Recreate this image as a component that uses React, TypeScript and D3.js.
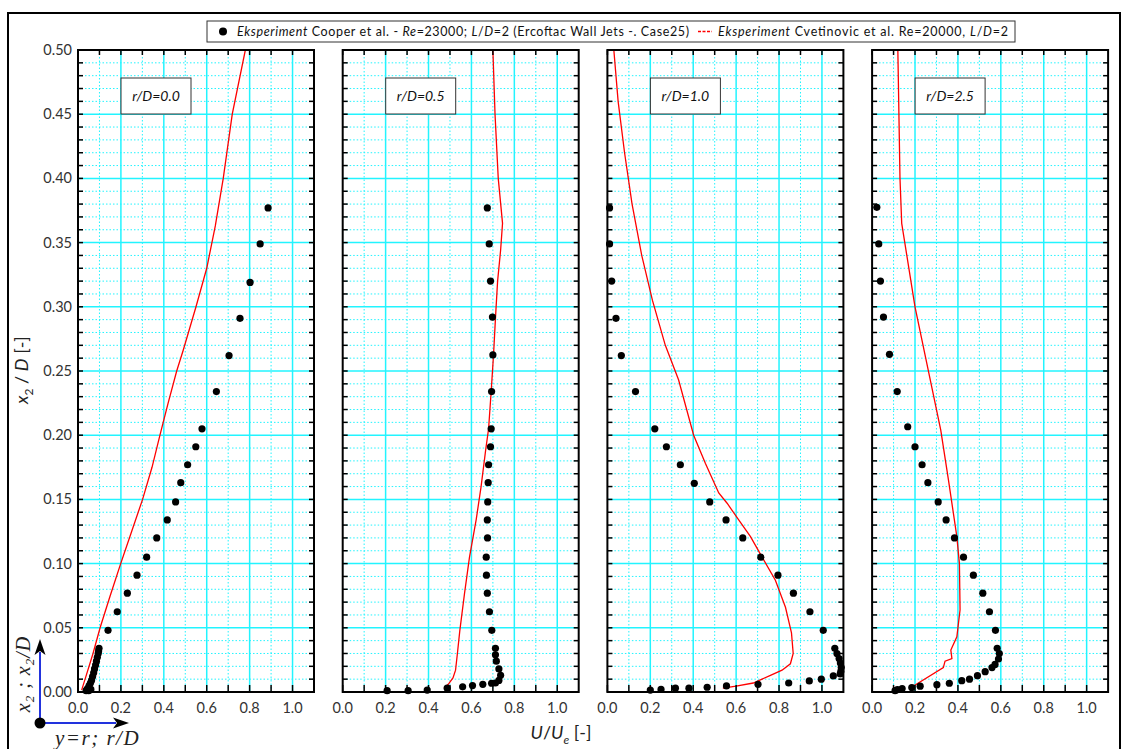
import React from "react";
import * as d3 from "d3";

// ---------- DATA ----------
const panelLabels = ["r/D=0.0", "r/D=0.5", "r/D=1.0", "r/D=2.5"];
const xTickValues = [0, 0.2, 0.4, 0.6, 0.8, 1.0];
const yTickValues = [0, 0.05, 0.1, 0.15, 0.2, 0.25, 0.3, 0.35, 0.4, 0.45, 0.5];

// Cooper et al. experiment points [U/Ue, x2/D]
const cooperR00: [number, number][] = [
  [0.886, 0.377], [0.849, 0.349], [0.802, 0.319], [0.755, 0.291], [0.704, 0.262], [0.645, 0.234],
  [0.578, 0.205], [0.549, 0.191], [0.511, 0.177], [0.479, 0.163], [0.455, 0.148], [0.416, 0.134],
  [0.367, 0.12], [0.32, 0.105], [0.275, 0.091], [0.23, 0.077], [0.183, 0.0625], [0.14, 0.048],
  [0.098, 0.034], [0.096, 0.032], [0.094, 0.03], [0.09, 0.027], [0.086, 0.024], [0.082, 0.021],
  [0.077, 0.018], [0.073, 0.015], [0.068, 0.012], [0.063, 0.009], [0.058, 0.007], [0.052, 0.005],
  [0.047, 0.003], [0.042, 0.002], [0.038, 0.001], [0.05, 0.001], [0.06, 0.002],
];
const cooperR05: [number, number][] = [
  [0.674, 0.377], [0.683, 0.349], [0.689, 0.32], [0.698, 0.292], [0.7, 0.2625], [0.694, 0.234],
  [0.692, 0.205], [0.689, 0.191], [0.68, 0.177], [0.678, 0.163], [0.676, 0.148], [0.674, 0.134],
  [0.675, 0.12], [0.669, 0.105], [0.67, 0.091], [0.674, 0.077], [0.684, 0.0625], [0.695, 0.048],
  [0.712, 0.034], [0.712, 0.029], [0.716, 0.024], [0.728, 0.018], [0.736, 0.013], [0.728, 0.009],
  [0.712, 0.007], [0.694, 0.0068], [0.653, 0.006], [0.605, 0.005], [0.559, 0.004], [0.487, 0.003],
  [0.394, 0.0015], [0.305, 0.001], [0.207, 0.001],
];
const cooperR10: [number, number][] = [
  [0.01, 0.377], [0.01, 0.349], [0.02, 0.32], [0.04, 0.291], [0.065, 0.262], [0.131, 0.234],
  [0.221, 0.205], [0.275, 0.191], [0.34, 0.177], [0.405, 0.1625], [0.477, 0.148], [0.553, 0.134],
  [0.631, 0.12], [0.715, 0.105], [0.795, 0.091], [0.867, 0.077], [0.944, 0.0625], [1.006, 0.048],
  [1.06, 0.034], [1.07, 0.03], [1.08, 0.026], [1.086, 0.0225], [1.09, 0.019], [1.088, 0.016],
  [1.085, 0.014], [1.053, 0.0125], [0.997, 0.01], [0.941, 0.0086], [0.845, 0.007], [0.702, 0.006],
  [0.555, 0.0047], [0.465, 0.0037], [0.38, 0.003], [0.317, 0.003], [0.25, 0.002], [0.2, 0.0015],
];
const cooperR25: [number, number][] = [
  [0.022, 0.3775], [0.031, 0.349], [0.039, 0.32], [0.053, 0.292], [0.081, 0.263], [0.117, 0.234],
  [0.166, 0.2066], [0.2, 0.191], [0.233, 0.177], [0.26, 0.163], [0.308, 0.148], [0.345, 0.134],
  [0.384, 0.12], [0.426, 0.105], [0.472, 0.091], [0.516, 0.077], [0.547, 0.0625], [0.575, 0.048],
  [0.583, 0.034], [0.593, 0.03], [0.589, 0.0257], [0.573, 0.0215], [0.559, 0.019], [0.527, 0.0158],
  [0.491, 0.0127], [0.454, 0.01], [0.418, 0.0088], [0.36, 0.0068], [0.302, 0.0057], [0.224, 0.0045],
  [0.185, 0.0035], [0.14, 0.0027], [0.118, 0.0018], [0.107, 0.001],
];

// Cvetinovic et al. experiment lines [U/Ue, x2/D]
const cvetR00: [number, number][] = [
  [0.017, 0.0015], [0.033, 0.01], [0.07, 0.03], [0.103, 0.05], [0.15, 0.075], [0.199, 0.1],
  [0.25, 0.125], [0.301, 0.15], [0.345, 0.175], [0.382, 0.2], [0.42, 0.225], [0.46, 0.25],
  [0.49, 0.266], [0.55, 0.3], [0.6, 0.33], [0.64, 0.363], [0.677, 0.4], [0.719, 0.45], [0.78, 0.5],
];
const cvetR05: [number, number][] = [
  [0.472, 0.003], [0.492, 0.006], [0.514, 0.011], [0.526, 0.017], [0.534, 0.029], [0.546, 0.048],
  [0.568, 0.077], [0.591, 0.105], [0.622, 0.134], [0.645, 0.16], [0.666, 0.188], [0.68, 0.205],
  [0.692, 0.234], [0.703, 0.2625], [0.712, 0.291], [0.722, 0.32], [0.736, 0.344], [0.745, 0.365],
  [0.725, 0.4], [0.71, 0.45], [0.7, 0.5],
];
const cvetR10: [number, number][] = [
  [0.538, 0.003], [0.6, 0.0045], [0.68, 0.007], [0.76, 0.013], [0.814, 0.017], [0.853, 0.022],
  [0.866, 0.03], [0.858, 0.046], [0.83, 0.066], [0.783, 0.087], [0.721, 0.105], [0.667, 0.121],
  [0.612, 0.134], [0.558, 0.147], [0.519, 0.155], [0.457, 0.178], [0.402, 0.2], [0.332, 0.243],
  [0.27, 0.27], [0.21, 0.305], [0.16, 0.34], [0.115, 0.38], [0.08, 0.42], [0.05, 0.46], [0.03, 0.5],
];
const cvetR25: [number, number][] = [
  [0.185, 0.0037], [0.193, 0.0047], [0.332, 0.019], [0.34, 0.024], [0.372, 0.026], [0.367, 0.0327],
  [0.395, 0.043], [0.41, 0.064], [0.407, 0.1], [0.395, 0.121], [0.356, 0.165], [0.32, 0.204],
  [0.2, 0.3], [0.138, 0.365], [0.13, 0.4], [0.12, 0.5],
];

const cooperSeries = [cooperR00, cooperR05, cooperR10, cooperR25];
const cvetSeries = [cvetR00, cvetR05, cvetR10, cvetR25];

// ---------- LAYOUT ----------
const W = 1128;
const H = 749;
const panelLeft0 = 78;
const panelStep = 264.7;
const panelW = 236;
const top = 50;
const bottom = 692;
const FONT = "Lato, 'Open Sans', sans-serif";
const SERIF = "'Liberation Serif', 'DejaVu Serif', serif";

const yScale = d3.scaleLinear().domain([0, 0.5]).range([bottom, top]);
const minorY = d3.range(0, 51).map((i) => i / 100);
const minorX = d3.range(0, 12).map((i) => i / 10);

function Panel({ index }: { index: number }) {
  const x0 = panelLeft0 + index * panelStep;
  const xScale = d3.scaleLinear().domain([0, 1.1]).range([x0, x0 + panelW]);
  const line = d3
    .line<[number, number]>()
    .x((d) => xScale(d[0]))
    .y((d) => yScale(d[1]));
  const clipId = `clip${index}`;
  const cyan = "#22f4ff";
  return (
    <g>
      <defs>
        <clipPath id={clipId}>
          <rect x={x0} y={top} width={panelW} height={bottom - top} />
        </clipPath>
      </defs>
      {minorY.map((v, i) =>
        i % 5 !== 0 ? (
          <line key={"mh" + i} x1={x0} x2={x0 + panelW} y1={yScale(v)} y2={yScale(v)}
            stroke={cyan} strokeWidth={1} strokeDasharray="1.5,2" />
        ) : null
      )}
      {minorX.map((v, i) =>
        i % 2 === 1 && v < 1.1 ? (
          <line key={"mv" + i} x1={xScale(v)} x2={xScale(v)} y1={top} y2={bottom}
            stroke={cyan} strokeWidth={1} strokeDasharray="1.5,2" />
        ) : null
      )}
      {yTickValues.map((v, i) =>
        v > 0 && v < 0.5 ? (
          <line key={"Mh" + i} x1={x0} x2={x0 + panelW} y1={yScale(v)} y2={yScale(v)}
            stroke={cyan} strokeWidth={1.5} />
        ) : null
      )}
      {xTickValues.map((v, i) =>
        v > 0 ? (
          <line key={"Mv" + i} x1={xScale(v)} x2={xScale(v)} y1={top} y2={bottom}
            stroke={cyan} strokeWidth={1.5} />
        ) : null
      )}
      <path d={line(cvetSeries[index]) || ""} fill="none" stroke="#ff0000" strokeWidth={1.3}
        clipPath={`url(#${clipId})`} />
      {cooperSeries[index].map((d, i) => (
        <circle key={"p" + i} cx={xScale(d[0])} cy={yScale(d[1])} r={3.6} fill="#000" />
      ))}
      {minorY.map((v, i) => (
        <g key={"ty" + i}>
          <line x1={x0} x2={x0 + 5} y1={yScale(v)} y2={yScale(v)} stroke="#000" strokeWidth={1.5} />
          <line x1={x0 + panelW - 5} x2={x0 + panelW} y1={yScale(v)} y2={yScale(v)} stroke="#000" strokeWidth={1.5} />
        </g>
      ))}
      {minorX.map((v, i) =>
        v < 1.1 ? (
          <g key={"tx" + i}>
            <line x1={xScale(v)} x2={xScale(v)} y1={bottom} y2={bottom - 7} stroke="#000" strokeWidth={1.5} />
            <line x1={xScale(v)} x2={xScale(v)} y1={top} y2={top + 5} stroke="#000" strokeWidth={1.5} />
          </g>
        ) : null
      )}
      <rect x={x0} y={top} width={panelW} height={bottom - top} fill="none" stroke="#000" strokeWidth={2} />
      {xTickValues.map((v, i) => (
        <text key={"xl" + i} x={xScale(v)} y={713} textAnchor="middle" fontFamily={FONT}
          fontSize={14.5} fill="#333">
          {d3.format(".1f")(v)}
        </text>
      ))}
      <rect x={x0 + 43} y={78} width={70} height={36} fill="#fff" stroke="#333" strokeWidth={1} />
      <text x={x0 + 78} y={101} textAnchor="middle" fontFamily={FONT} fontSize={14} fontStyle="italic" fill="#111">
        {panelLabels[index]}
      </text>
    </g>
  );
}

export default function App() {
  return (
    <svg width={W} height={H} style={{ position: "absolute", left: 0, top: 0, background: "#fff" }}>
      <rect x={0} y={0} width={W} height={H} fill="#fff" />
      <rect x={8} y={13} width={1112} height={760} fill="none" stroke="#000" strokeWidth={2} />
      {[0, 1, 2, 3].map((i) => (
        <Panel key={i} index={i} />
      ))}
      {yTickValues.map((v, i) => (
        <text key={"yl" + i} x={72} y={yScale(v) + 5} textAnchor="end" fontFamily={FONT} fontSize={14.5} fill="#333">
          {d3.format(".2f")(v)}
        </text>
      ))}
      <text transform={`translate(28,${370}) rotate(-90)`} textAnchor="middle" fontFamily={FONT} fontSize={18} fill="#222">
        <tspan fontStyle="italic">x</tspan>
        <tspan fontSize={12} dy={5}>2</tspan>
        <tspan dy={-5}> / </tspan>
        <tspan fontStyle="italic">D</tspan>
        <tspan> [-]</tspan>
      </text>
      <text x={561} y={739} textAnchor="middle" fontFamily={FONT} fontSize={18} fill="#222">
        <tspan fontStyle="italic">U</tspan>
        <tspan>/</tspan>
        <tspan fontStyle="italic">U</tspan>
        <tspan fontSize={12} dy={5} fontStyle="italic">e</tspan>
        <tspan dy={-5}> [-]</tspan>
      </text>
      {/* legend */}
      <rect x={207} y={21} width={808} height={21} fill="#fff" stroke="#333" strokeWidth={1} />
      <circle cx={223} cy={31.5} r={4} fill="#000" />
      <text x={237} y={35.8} fontFamily={FONT} fontSize={12.5} fill="#111" textLength={452} lengthAdjust="spacing">
        <tspan fontStyle="italic">Eksperiment</tspan>
        <tspan> Cooper et al. - </tspan>
        <tspan fontStyle="italic">Re</tspan>
        <tspan>=23000; </tspan>
        <tspan fontStyle="italic">L</tspan>
        <tspan>/</tspan>
        <tspan fontStyle="italic">D</tspan>
        <tspan>=2 (Ercoftac Wall Jets -. Case25)</tspan>
      </text>
      <line x1={698} x2={712} y1={31.5} y2={31.5} stroke="#ff0000" strokeWidth={1.5} strokeDasharray="3,1.5" />
      <text x={718} y={35.8} fontFamily={FONT} fontSize={12.5} fill="#111" textLength={290} lengthAdjust="spacing">
        <tspan fontStyle="italic">Eksperiment</tspan>
        <tspan> Cvetinovic et al. Re=20000, </tspan>
        <tspan fontStyle="italic">L</tspan>
        <tspan>/</tspan>
        <tspan fontStyle="italic">D</tspan>
        <tspan>=2</tspan>
      </text>
      {/* coordinate icon */}
      <line x1={40} y1={723} x2={40} y2={652} stroke="#2233dd" strokeWidth={2} />
      <line x1={40} y1={723} x2={116} y2={723} stroke="#2233dd" strokeWidth={2} />
      <path d="M40,639 L34.5,655 L40,651 L45.5,655 Z" fill="#000" />
      <path d="M129,723 L113,717.5 L117,723 L113,728.5 Z" fill="#000" />
      <circle cx={40} cy={723} r={5.5} fill="#000" />
      <text transform="translate(30,674) rotate(-90)" textAnchor="middle" fontFamily={SERIF} fontSize={20}
        fontStyle="italic" fill="#222" letterSpacing={1}>
        <tspan>x</tspan>
        <tspan fontSize={13} dy={4}>2</tspan>
        <tspan dy={-4}> ; x</tspan>
        <tspan fontSize={13} dy={4}>2</tspan>
        <tspan dy={-4}>/D</tspan>
      </text>
      <text x={55} y={745} fontFamily={SERIF} fontSize={21} fontStyle="italic" fill="#222" letterSpacing={1.5}>
        y=r; r/D
      </text>
    </svg>
  );
}
